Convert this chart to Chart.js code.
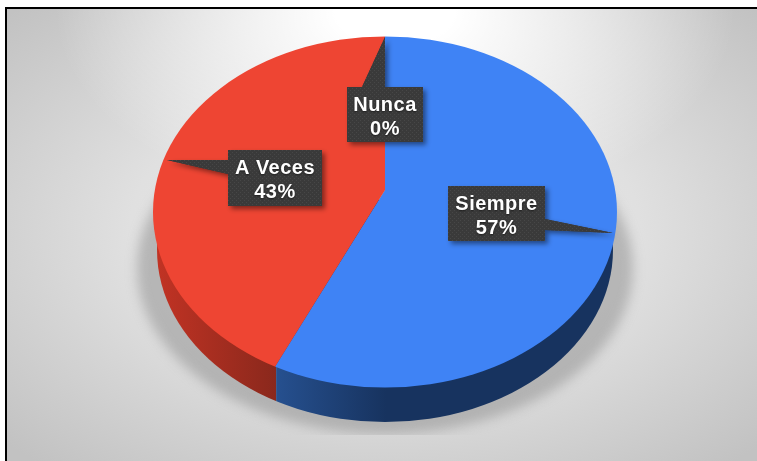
<!DOCTYPE html>
<html>
<head>
<meta charset="utf-8">
<style>
html, body { margin: 0; padding: 0; background: #fff; overflow: hidden; }
canvas { display: block; }
</style>
<script src="https://cdn.jsdelivr.net/npm/chart.js@4"></script>
</head>
<body>
<canvas id="chartPie" width="757" height="461"></canvas>
<script>
const categorias = ['Siempre', 'A Veces', 'Nunca'];
const porcentajes = [57, 43, 0];
const colores = ['#3f83f5', '#ee4533', '#a5a5a5'];

// elipses de la cara superior y de la base (vista en perspectiva)
const TOP = { x: 385, y: 212, rx: 232, ry: 175.5 };
const BASE = { x: 385, y: 250, rx: 228, ry: 172 };
const CENTRO = { x: 385, y: 190 };
const ESCALA_X = 1.3, ESCALA_Y = 1.3 * 0.7565;

// caja y punta de cada etiqueta, mismo orden que categorias
const CALLOUTS = [
    { box: [448, 186, 97, 55], tail: [[545, 219], [613, 233], [545, 230]] },
    { box: [228, 150, 94, 56], tail: [[228, 160], [167, 160], [228, 174]] },
    { box: [347, 87, 76, 55], tail: [[362, 87], [385, 37], [385, 87]] }
];

function elipse(ctx, e) {
    ctx.beginPath();
    ctx.ellipse(e.x, e.y, e.rx, e.ry, 0, 0, Math.PI * 2);
}

function proyectar(ctx, arc) {
    ctx.translate(CENTRO.x, CENTRO.y);
    ctx.scale(ESCALA_X, ESCALA_Y);
    ctx.translate(-arc.x, -arc.y);
}

// x donde el radio de angulo dado (angulo de Chart.js) corta el borde superior
function corteX(angulo) {
    const dx = Math.cos(angulo), dy = Math.sin(angulo) * 0.7565;
    const ox = CENTRO.x - TOP.x, oy = CENTRO.y - TOP.y;
    const a = (dx * dx) / (TOP.rx * TOP.rx) + (dy * dy) / (TOP.ry * TOP.ry);
    const b = 2 * ((ox * dx) / (TOP.rx * TOP.rx) + (oy * dy) / (TOP.ry * TOP.ry));
    const c = (ox * ox) / (TOP.rx * TOP.rx) + (oy * oy) / (TOP.ry * TOP.ry) - 1;
    const t = (-b + Math.sqrt(b * b - 4 * a * c)) / (2 * a);
    return CENTRO.x + t * dx;
}

function texturaCaja(ctx) {
    const c = document.createElement('canvas');
    c.width = 4; c.height = 4;
    const t = c.getContext('2d');
    t.fillStyle = '#3a3a3a';
    t.fillRect(0, 0, 4, 4);
    t.fillStyle = '#474747';
    t.fillRect(0, 0, 1, 1);
    t.fillRect(2, 2, 1, 1);
    return ctx.createPattern(c, 'repeat');
}

const fondoPlugin = {
    id: 'fondo',
    beforeDraw(chart) {
        const ctx = chart.ctx;
        ctx.fillStyle = '#fff';
        ctx.fillRect(0, 0, 757, 461);

        ctx.save();
        ctx.translate(385, 230);
        ctx.scale(1, 0.6);
        let g = ctx.createRadialGradient(0, 0, 0, 0, 0, 520);
        g.addColorStop(0, '#ececec');
        g.addColorStop(0.49, '#e0e0e0');
        g.addColorStop(0.69, '#d4d4d4');
        g.addColorStop(1, '#c2c2c2');
        ctx.fillStyle = g;
        ctx.fillRect(-385, -400, 772, 800);
        ctx.restore();

        // brillo blanco arriba al centro
        ctx.save();
        ctx.translate(395, 10);
        ctx.scale(1, 0.6);
        g = ctx.createRadialGradient(0, 0, 60, 0, 0, 340);
        g.addColorStop(0, 'rgba(255,255,255,1)');
        g.addColorStop(1, 'rgba(255,255,255,0)');
        ctx.fillStyle = g;
        ctx.fillRect(-395, -20, 772, 800);
        ctx.restore();

        ctx.fillStyle = '#fff';
        ctx.fillRect(0, 0, 757, 7);
        ctx.fillRect(0, 0, 5, 461);
        ctx.fillStyle = '#000';
        ctx.fillRect(5, 7, 752, 2);
        ctx.fillRect(5, 7, 2, 454);
    }
};

const pie3dPlugin = {
    id: 'pie3d',
    beforeDatasetsDraw(chart) {
        const ctx = chart.ctx;
        const arcs = chart.getDatasetMeta(0).data;

        // sombra bajo el pastel
        ctx.save();
        ctx.beginPath();
        ctx.rect(0, 0, 757, 435);
        ctx.clip();
        ctx.filter = 'blur(6px)';
        ctx.fillStyle = 'rgba(140,140,140,0.5)';
        elipse(ctx, { x: 385, y: 268, rx: 248, ry: 166 });
        ctx.fill();
        ctx.restore();

        // pared lateral, dividida donde termina la primera porcion
        const corte = corteX(arcs[0].endAngle) + 1;
        const rojo = ctx.createLinearGradient(155, 0, corte, 0);
        rojo.addColorStop(0, '#c23324');
        rojo.addColorStop(1, '#8a281c');
        const azul = ctx.createLinearGradient(corte, 0, corte + 110, 0);
        azul.addColorStop(0, '#26508f');
        azul.addColorStop(1, '#17335f');
        elipse(ctx, BASE);
        ctx.fillStyle = rojo;
        ctx.save();
        ctx.clip();
        ctx.fillRect(0, 200, corte, 261);
        ctx.fillStyle = azul;
        ctx.fillRect(corte, 200, 757 - corte, 261);
        ctx.restore();

        // cara superior: la dibuja la libreria, recortada a la elipse
        ctx.save();
        elipse(ctx, TOP);
        ctx.clip();
        proyectar(ctx, arcs[0]);
    },
    afterDatasetsDraw(chart) {
        chart.ctx.restore();
    },
    afterDraw(chart) {
        const ctx = chart.ctx;
        const trama = texturaCaja(ctx);
        CALLOUTS.forEach((c, i) => {
            const [x, y, w, h] = c.box;
            ctx.save();
            ctx.shadowColor = 'rgba(0,0,0,0.45)';
            ctx.shadowBlur = 5;
            ctx.shadowOffsetX = 3;
            ctx.shadowOffsetY = 3;
            ctx.fillStyle = trama;
            ctx.beginPath();
            ctx.moveTo(c.tail[0][0], c.tail[0][1]);
            ctx.lineTo(c.tail[1][0], c.tail[1][1]);
            ctx.lineTo(c.tail[2][0], c.tail[2][1]);
            ctx.closePath();
            ctx.rect(x, y, w, h);
            ctx.fill('nonzero');
            ctx.restore();

            ctx.save();
            ctx.fillStyle = trama;
            ctx.beginPath();
            ctx.moveTo(c.tail[0][0], c.tail[0][1]);
            ctx.lineTo(c.tail[1][0], c.tail[1][1]);
            ctx.lineTo(c.tail[2][0], c.tail[2][1]);
            ctx.closePath();
            ctx.fill();
            ctx.fillRect(x, y, w, h);
            ctx.font = 'bold 20px "Liberation Sans", Arial, sans-serif';
            ctx.letterSpacing = '0.5px';
            ctx.fillStyle = '#ffffff';
            ctx.textAlign = 'center';
            ctx.textBaseline = 'middle';
            ctx.shadowColor = 'rgba(0,0,0,0.5)';
            ctx.shadowBlur = 2;
            ctx.shadowOffsetY = 1;
            ctx.fillText(categorias[i], x + w / 2, y + 18);
            ctx.fillText(porcentajes[i] + '%', x + w / 2, y + 42);
            ctx.restore();
        });
    }
};

new Chart(document.getElementById('chartPie'), {
    type: 'pie',
    data: {
        labels: categorias,
        datasets: [{
            data: porcentajes,
            backgroundColor: colores,
            borderWidth: 0
        }]
    },
    options: {
        responsive: false,
        animation: false,
        events: [],
        layout: { padding: 0 },
        plugins: { legend: { display: false }, tooltip: { enabled: false } }
    },
    plugins: [fondoPlugin, pie3dPlugin]
});
</script>
</body>
</html>
